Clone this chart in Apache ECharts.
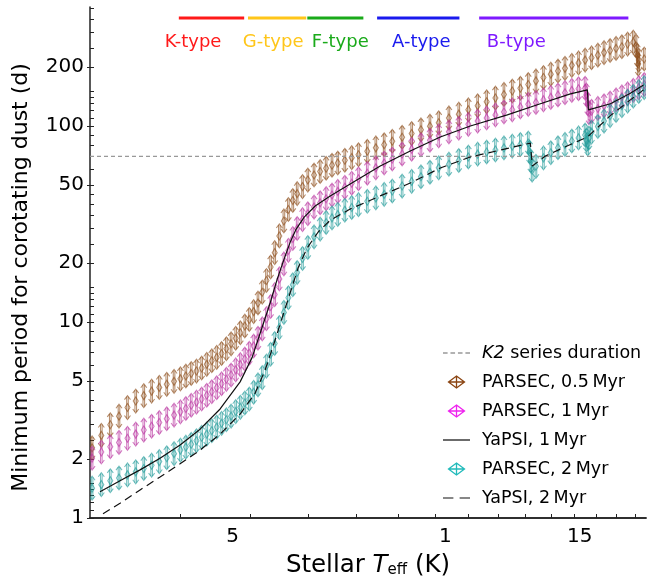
<!DOCTYPE html>
<html>
<head>
<meta charset="utf-8">
<script src="https://cdn.jsdelivr.net/npm/echarts@6/dist/echarts.min.js"></script>
<style>
  html, body { margin: 0; padding: 0; background: #fff; }
  #chart { width: 648px; height: 585px; }
</style>
</head>
<body>
<div id="chart"></div>
<script>
// Minimum corotation period (days) versus stellar effective temperature (K)

// PARSEC isochrones: [Teff, period]
const parsec05 = [
  [3020,2.28],[3110,2.64],[3200,2.99],[3290,3.31],[3380,3.66],[3470,3.95],[3560,4.21],[3650,4.44],
  [3740,4.64],[3830,4.81],[3920,4.98],[4000,5.13],[4070,5.30],[4140,5.46],[4210,5.62],[4280,5.83],
  [4350,6.08],[4420,6.34],[4490,6.60],[4560,6.91],[4630,7.31],[4700,7.74],[4770,8.26],[4840,8.82],
  [4910,9.54],[4980,10.3],[5050,11.3],[5120,12.5],[5190,14.2],[5260,16.3],[5330,19.1],[5400,22.6],
  [5480,27.5],[5560,32.8],[5640,37.5],[5720,41.7],[5800,45.2],[5900,49.1],[6000,53.0],[6120,56.3],
  [6240,58.6],[6360,60.9],[6480,63.1],[6600,64.8],[6750,66.9],[6900,69.0],[7050,71.4],[7250,74.4],
  [7450,77.4],[7650,80.3],[7850,83.7],[8100,87.7],[8350,91.6],[8600,95.7],[8850,99.9],[9100,104],
  [9400,110],[9700,115],[10000,121],[10300,127],[10600,133],[10900,139],[11200,145],[11500,151],
  [11800,156],[12100,163],[12400,170],[12700,177],[13000,184],[13300,191],[13600,197],[13900,204],
  [14200,210],[14500,217],[14800,223],[15100,230],[15400,237],[15700,243],[16000,249],[16300,254],
  [16600,262],[16900,268],[17050,256],[17120,230],[17170,207],[17200,217],[17500,220]
];
const parsec1 = [
  [3020,2.02],[3110,2.17],[3200,2.31],[3290,2.43],[3380,2.55],[3470,2.68],[3560,2.81],[3650,2.94],
  [3740,3.07],[3830,3.21],[3920,3.35],[4000,3.48],[4070,3.62],[4140,3.76],[4210,3.90],[4280,4.05],
  [4350,4.23],[4420,4.41],[4490,4.62],[4560,4.84],[4630,5.10],[4700,5.37],[4770,5.70],[4840,6.06],
  [4910,6.48],[4980,6.93],[5050,7.55],[5120,8.27],[5190,9.22],[5260,10.4],[5330,12.0],[5400,13.8],
  [5480,16.6],[5560,19.8],[5640,23.2],[5720,26.7],[5800,30.0],[5900,33.3],[6000,35.7],[6120,38.6],
  [6240,40.6],[6360,42.6],[6480,44.5],[6600,46.4],[6750,48.7],[6900,51.1],[7050,53.8],[7250,57.4],
  [7450,61.2],[7650,64.8],[7850,67.9],[8100,72.0],[8350,76.1],[8600,80.3],[8850,84.7],[9100,89.1],
  [9400,93.4],[9700,97.5],[10000,102],[10300,106],[10600,110],[10900,114],[11200,118],[11500,121],
  [11800,125],[12100,129],[12400,132],[12700,136],[13000,140],[13300,144],[13600,148],[13900,152],
  [14200,155],[14500,156],[14560,144],[14620,130],[14680,117],[14800,119],[15100,123],[15400,127],
  [15700,131],[16000,136],[16300,141],[16600,146],[16900,152],[17200,157],[17500,163]
];
const parsec2 = [
  [3020,1.42],[3110,1.48],[3200,1.55],[3290,1.60],[3380,1.66],[3470,1.72],[3560,1.79],[3650,1.86],
  [3740,1.94],[3830,2.03],[3920,2.13],[4000,2.22],[4070,2.30],[4140,2.38],[4210,2.48],[4280,2.58],
  [4350,2.68],[4420,2.79],[4490,2.91],[4560,3.04],[4630,3.17],[4700,3.31],[4770,3.49],[4840,3.67],
  [4910,3.86],[4980,4.05],[5050,4.38],[5120,4.78],[5190,5.20],[5260,5.96],[5330,6.85],[5400,7.77],
  [5480,9.37],[5560,11.2],[5640,13.3],[5720,15.5],[5800,17.9],[5900,21.1],[6000,24.0],[6120,27.2],
  [6240,29.8],[6360,32.2],[6480,34.0],[6600,35.4],[6750,37.2],[6900,38.4],[7050,39.7],[7250,41.3],
  [7450,43.0],[7650,44.8],[7850,46.6],[8100,49.4],[8350,52.2],[8600,55.1],[8850,58.1],[9100,61.2],
  [9400,63.9],[9700,66.7],[10000,69.5],[10300,71.9],[10600,73.7],[10900,75.5],[11200,77.4],[11500,79.0],
  [11800,80.5],[12100,81.9],[12150,73.7],[12200,66.3],[12250,59.6],[12400,62.3],[12700,68.8],[13000,73.1],
  [13300,77.5],[13600,80.6],[13900,83.9],[14200,87.0],[14500,90.0],[14560,84.9],[14620,81.0],[14680,86.9],
  [14800,93.1],[15100,99.5],[15400,106],[15700,113],[16000,120],[16300,127],[16600,134],[16900,142],
  [17200,150],[17500,157]
];

// YaPSI isochrones: [Teff, period]
const yapsi1 = [
  [3097,1.36],[3301,1.55],[3518,1.76],[3749,2.02],[3996,2.36],[4259,2.84],[4539,3.60],[4837,4.95],
  [5026,6.6],[5188,9.4],[5322,12.5],[5442,16.5],[5565,21.0],[5672,25.5],[5782,29.8],[5931,34.3],
  [6142,39.1],[6443,44.0],[6866,50.6],[7555,62.5],[8312,74.6],[9145,87.9],[10063,100],[11321,114],
  [12575,130],[13836,146],[14606,153],[14652,121],[15715,130],[16749,147],[17457,162]
];
const yapsi2 = [
  [3127,1.05],[3301,1.19],[3518,1.39],[3749,1.62],[3996,1.89],[4259,2.22],[4539,2.68],[4837,3.39],
  [5074,4.34],[5238,5.69],[5390,7.81],[5529,10.5],[5672,14.1],[5818,18.9],[5988,23.9],[6201,28.8],
  [6443,33.1],[6866,37.7],[7555,44.0],[8312,51.2],[9145,61.1],[10063,69.5],[11071,75.4],[12181,81.9],
  [12259,62.5],[12777,70.3],[13402,76.3],[14606,87.9],[15715,113],[16749,136],[17457,153]
];

// K2 campaign length (days)
const k2Duration = 70;

// Spectral classes: name, Teff range, label anchor Teff, colour
const spectralNames  = ['K-type', 'G-type', 'F-type', 'A-type', 'B-type'];
const spectralRanges = [[3980, 4900], [4960, 5970], [5990, 7160], [7480, 9720], [10350, 16640]];
const spectralLabelT = [4165, 5373, 6652, 8609, 11650];
const spectralColors = ['#ff1a1a', '#ffc61a', '#1aaa1a', '#1a1aee', '#7f1aff'];

// Axis ranges and ticks
const teffRange = [3000, 17600];
const periodRange = [1, 405];
const teffTicks = [4000, 5000, 6000, 7000, 8000, 9000, 10000, 11000, 12000, 13000, 14000, 15000, 16000, 17000];
const teffLabelValues = [5000, 10000, 15000];
const teffLabelText = ['5', '1', '15'];
const periodMinorTicks = [1.1, 1.2, 1.3, 1.4, 1.5, 2.5, 3, 3.5, 4, 4.5, 6, 7, 8, 9,
                          11, 12, 13, 14, 15, 25, 30, 35, 40, 45, 60, 70, 80, 90,
                          110, 120, 130, 140, 150, 250, 300, 350, 400];
const periodLabels = [1, 2, 5, 10, 20, 50, 100, 200];

const FONT = '"DejaVu Sans", "Liberation Sans", sans-serif';
const lg = Math.log10;
const toLog = arr => arr.map(d => [lg(d[0]), lg(d[1])]);

// half-height of each plotted uncertainty bar (dex)
const ERR = lg(1.15);

function glyph(params, api) {
  const lt = api.value(0), lp = api.value(1);
  const c = api.coord([lt, lp]);
  const top = api.coord([lt, lp + ERR])[1];
  const bot = api.coord([lt, lp - ERR])[1];
  const x = c[0], y = c[1];
  const col = api.visual('color');
  const st = { stroke: col, fill: null, lineWidth: 1.1, opacity: 0.62 };
  return {
    type: 'group',
    children: [
      { type: 'line', shape: { x1: x - 0.8, y1: top + 1, x2: x - 0.8, y2: bot - 1 }, style: st },
      { type: 'line', shape: { x1: x + 0.8, y1: top + 1, x2: x + 0.8, y2: bot - 1 }, style: st },
      { type: 'polyline', shape: { points: [[x - 3, top + 4], [x, top], [x + 3, top + 4]] }, style: st },
      { type: 'polyline', shape: { points: [[x - 3, bot - 4], [x, bot], [x + 3, bot - 4]] }, style: st },
      { type: 'polygon', shape: { points: [[x, y - 4], [x + 2.5, y], [x, y + 4], [x - 2.5, y]] }, style: st }
    ]
  };
}

function spectralBar(params, api) {
  const i = params.dataIndex;
  const sys = params.coordSys;
  const x1 = api.coord([api.value(0), 0])[0];
  const x2 = api.coord([api.value(1), 0])[0];
  const xl = api.coord([api.value(2), 0])[0];
  const col = spectralColors[i];
  return {
    type: 'group',
    children: [
      { type: 'line', shape: { x1: x1, y1: sys.y + 11, x2: x2, y2: sys.y + 11 },
        style: { stroke: col, lineWidth: 3 } },
      { type: 'text', x: xl, y: sys.y + 35,
        style: { text: spectralNames[i], fill: col, font: '18px ' + FONT, align: 'center', verticalAlign: 'middle' } }
    ]
  };
}

const NAME_K2 = 'K2 series duration';
const NAME_P05 = 'PARSEC, 0.5\u2009Myr';
const NAME_P1 = 'PARSEC, 1\u2009Myr';
const NAME_Y1 = 'YaPSI, 1\u2009Myr';
const NAME_P2 = 'PARSEC, 2\u2009Myr';
const NAME_Y2 = 'YaPSI, 2\u2009Myr';
const ICON_GLYPH = 'path://M0,6L8,0L16,6L8,12ZM0,6L16,6M8,0L8,12';
const ICON_K2 = 'path://M0,0h4v1.2h-4zM6.5,0h4v1.2h-4zM13,0h4v1.2h-4zM19.5,0h4v1.2h-4z';
const ICON_SOLID = 'path://M0,0h26v1.2h-26z';
const ICON_DASH = 'path://M0,0h10v1.2h-10zM16,0h10v1.2h-10z';

const chart = echarts.init(document.getElementById('chart'), null, { renderer: 'canvas' });

const xMin = lg(teffRange[0]), xMax = lg(teffRange[1]);
const yMin = lg(periodRange[0]), yMax = lg(periodRange[1]);

const option = {
  animation: false,
  backgroundColor: '#fff',
  grid: { left: 90, right: 2, top: 7, bottom: 67 },
  legend: {
    orient: 'vertical', left: 443, top: 343, padding: 0,
    itemGap: 9, itemWidth: 27, itemHeight: 12, symbolKeepAspect: true,
    textStyle: { fontSize: 17.5, fontFamily: FONT, color: '#000', lineHeight: 20, padding: [0, 0, 0, 7],
      rich: { i: { fontStyle: 'italic', fontSize: 17.5, fontFamily: FONT, color: '#000' },
              n: { fontSize: 17.5, fontFamily: FONT, color: '#000' } } },
    formatter: name => name === NAME_K2 ? '{i|K2}{n| series duration}' : name,
    data: [
      { name: NAME_K2, icon: ICON_K2, itemStyle: { color: '#999' } },
      { name: NAME_P05, icon: ICON_GLYPH, itemStyle: { color: 'rgba(0,0,0,0)', borderColor: '#8b4513', borderWidth: 1.3 } },
      { name: NAME_P1, icon: ICON_GLYPH, itemStyle: { color: 'rgba(0,0,0,0)', borderColor: '#ee22ee', borderWidth: 1.3 } },
      { name: NAME_Y1, icon: ICON_SOLID, itemStyle: { color: '#111' } },
      { name: NAME_P2, icon: ICON_GLYPH, itemStyle: { color: 'rgba(0,0,0,0)', borderColor: '#22bbbb', borderWidth: 1.3 } },
      { name: NAME_Y2, icon: ICON_DASH, itemStyle: { color: '#111' } }
    ]
  },
  xAxis: [{
    type: 'value', min: xMin, max: xMax, position: 'bottom',
    name: '{a|Stellar }{b|T}{c|eff}{a| (K)}', nameLocation: 'middle', nameGap: 35,
    nameTextStyle: { rich: {
      a: { fontSize: 24.5, fontFamily: FONT, color: '#000' },
      b: { fontSize: 24.5, fontFamily: FONT, fontStyle: 'italic', color: '#000' },
      c: { fontSize: 15, fontFamily: FONT, color: '#000', padding: [10, 0, 0, 0] } } },
    axisLine: { lineStyle: { color: '#222', width: 1.5 } },
    axisTick: { customValues: teffTicks.map(lg), inside: true, length: 4, lineStyle: { color: '#222' } },
    axisLabel: {
      customValues: teffLabelValues.map(lg), margin: 9, fontSize: 20, fontFamily: FONT, color: '#000',
      formatter: v => {
        const i = teffLabelValues.findIndex(t => Math.abs(lg(t) - v) < 1e-6);
        return i < 0 ? '' : '{p' + i + '|' + teffLabelText[i] + '}';
      },
      rich: {
        p0: { fontSize: 20, fontFamily: FONT, color: '#000', padding: [0, 36, 0, 0] },
        p1: { fontSize: 20, fontFamily: FONT, color: '#000', padding: [0, 46, 0, 0] },
        p2: { fontSize: 20, fontFamily: FONT, color: '#000', padding: [0, 32, 0, 0] }
      }
    },
    splitLine: { show: false }
  }, {
    type: 'value', min: xMin, max: xMax, position: 'top',
    axisLine: { lineStyle: { color: '#222', width: 1.5 } },
    axisTick: { show: false }, axisLabel: { show: false }, splitLine: { show: false }
  }],
  yAxis: [{
    type: 'value', min: yMin, max: yMax, position: 'left',
    name: 'Minimum period for corotating dust (d)', nameLocation: 'middle', nameGap: 58, nameRotate: 90,
    nameTextStyle: { fontSize: 22, fontFamily: FONT, color: '#000', padding: [0, 30, 0, 0] },
    axisLine: { lineStyle: { color: '#222', width: 1.5 } },
    axisTick: { customValues: periodMinorTicks.concat(periodLabels).map(lg), inside: true, length: 4, lineStyle: { color: '#222' } },
    axisLabel: {
      customValues: periodLabels.map(lg), margin: 6, fontSize: 20, fontFamily: FONT, color: '#000',
      formatter: v => String(Math.round(Math.pow(10, v)))
    },
    splitLine: { show: false }
  }, {
    type: 'value', min: yMin, max: yMax, position: 'left',
    axisLine: { show: false },
    axisTick: { customValues: periodLabels.map(lg), inside: false, length: 3, lineStyle: { color: '#222' } },
    axisLabel: { show: false }, splitLine: { show: false }
  }],
  series: [
    {
      name: NAME_K2, type: 'line', symbol: 'none', silent: true,
      data: [[xMin, lg(k2Duration)], [xMax, lg(k2Duration)]],
      lineStyle: { color: '#999', width: 1.3, type: [4, 3] }, itemStyle: { color: '#999' }
    },
    { name: NAME_P05, type: 'custom', renderItem: glyph, data: toLog(parsec05), clip: true,
      itemStyle: { color: '#8b4a17' }, z: 2 },
    { name: NAME_P1, type: 'custom', renderItem: glyph, data: toLog(parsec1), clip: true,
      itemStyle: { color: '#b8309e' }, z: 2 },
    {
      name: NAME_Y1, type: 'line', symbol: 'none', data: toLog(yapsi1), clip: true,
      lineStyle: { color: '#111', width: 1.2 }, itemStyle: { color: '#111' }, z: 4
    },
    { name: NAME_P2, type: 'custom', renderItem: glyph, data: toLog(parsec2), clip: true,
      itemStyle: { color: '#1f9a98' }, z: 2 },
    {
      name: NAME_Y2, type: 'line', symbol: 'none', data: toLog(yapsi2), clip: true,
      lineStyle: { color: '#111', width: 1.2, type: [8, 5] }, itemStyle: { color: '#111' }, z: 4
    },
    {
      name: 'spectral', type: 'custom', renderItem: spectralBar, silent: true, z: 5,
      data: spectralRanges.map((r, i) => [lg(r[0]), lg(r[1]), lg(spectralLabelT[i])])
    }
  ]
};

chart.setOption(option);
</script>
</body>
</html>
